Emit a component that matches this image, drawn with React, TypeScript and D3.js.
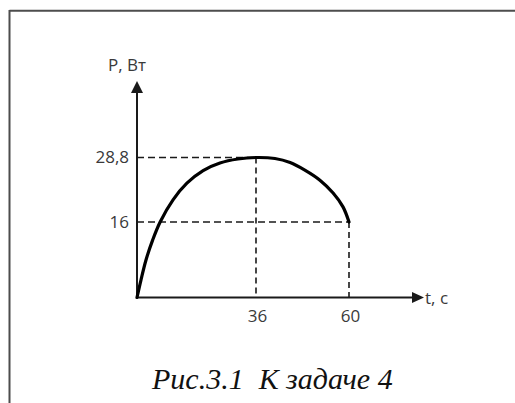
import React from "react";
import * as d3 from "d3";

// Power vs time curve, P(t) in watts
const timeValues = [0, 1.2, 2.7, 4.7, 7.0, 10.9, 15.1, 20.0, 25.1, 30.5, 36, 40.9, 44.8, 48.6, 52.5, 55.9, 58.45, 60];
const powerValues = [0, 3.7, 7.9, 12.1, 16, 20.4, 23.7, 26.2, 27.7, 28.5, 28.8, 28.6, 27.8, 26.3, 24.3, 21.75, 19.0, 16];

// Marked points (t, P)
const markTimes = [36, 60];
const markPowers = [28.8, 16];
const timeTickLabels = ["36", "60"];
const powerTickLabels = ["28,8", "16"];

const yAxisTitle = "P, Вт";
const xAxisTitle = "t, c";
const caption = "Рис.3.1  К задаче 4";

const W = 515;
const H = 403;

export default function App() {
  // schematic axes: piecewise-linear scales through the marked values
  const x = d3.scaleLinear().domain([0, 36, 60]).range([137, 256, 349]);
  const y = d3.scaleLinear().domain([0, 16, 28.8]).range([297.5, 222, 157.5]);

  const pts: [number, number][] = timeValues.map((t, i) => [t, powerValues[i]]);
  const line = d3
    .line<[number, number]>()
    .x((d) => x(d[0]))
    .y((d) => y(d[1]))
    .curve(d3.curveCatmullRom.alpha(0.5));

  const x0 = x(0);
  const y0 = y(0);
  const xEnd = 424;
  const yTop = 81;
  const axisColor = "#1a1a1a";
  const textColor = "#3a3a3a";
  const sans = "'Open Sans', 'Noto Sans', sans-serif";

  return (
    <svg
      width={W}
      height={H}
      viewBox={`0 0 ${W} ${H}`}
      style={{ position: "absolute", left: 0, top: 0, background: "#fff" }}
    >
      <rect x={0} y={0} width={W} height={H} fill="#fff" />
      {/* frame */}
      <line x1={9.5} y1={10.8} x2={W} y2={10.8} stroke="#4d4d4d" strokeWidth={2} />
      <line x1={9.5} y1={10} x2={9.5} y2={H} stroke="#4d4d4d" strokeWidth={2} />

      {/* dashed guides */}
      {markTimes.map((t, i) => (
        <g key={"g" + i} stroke="#1a1a1a" strokeWidth={1.6} fill="none">
          <line x1={x0} y1={y(markPowers[i])} x2={x(t)} y2={y(markPowers[i])} strokeDasharray="7,4" />
          <line x1={x(t)} y1={y(markPowers[i])} x2={x(t)} y2={y0} strokeDasharray="6,4" />
        </g>
      ))}

      {/* axes */}
      <line x1={x0} y1={y0} x2={xEnd - 10} y2={y0} stroke={axisColor} strokeWidth={2} />
      <line x1={x0} y1={y0} x2={x0} y2={yTop + 10} stroke={axisColor} strokeWidth={2} />
      <path d={`M${xEnd},${y0} L${xEnd - 12},${y0 - 5.5} L${xEnd - 12},${y0 + 5.5} Z`} fill={axisColor} />
      <path d={`M${x0},${yTop} L${x0 - 6},${yTop + 12} L${x0 + 6},${yTop + 12} Z`} fill={axisColor} />

      {/* curve */}
      <path d={line(pts) || ""} fill="none" stroke="#000" strokeWidth={3.2} strokeLinecap="round" />

      {/* tick labels */}
      {markPowers.map((p, i) => (
        <text
          key={"py" + i}
          x={x0 - 8}
          y={y(p) + 5.5}
          textAnchor="end"
          fontFamily={sans}
          fontSize={17}
          fill={textColor}
        >
          {powerTickLabels[i]}
        </text>
      ))}
      {markTimes.map((t, i) => (
        <text
          key={"tx" + i}
          x={x(t) + 1.5}
          y={y0 + 24}
          textAnchor="middle"
          fontFamily={sans}
          fontSize={17}
          fill={textColor}
        >
          {timeTickLabels[i]}
        </text>
      ))}

      {/* axis titles */}
      <text x={108} y={71} fontFamily={sans} fontSize={17} fill={textColor}>
        {yAxisTitle}
      </text>
      <text x={425} y={304} fontFamily={sans} fontSize={17} fill={textColor}>
        {xAxisTitle}
      </text>

      {/* caption */}
      <text
        x={152}
        y={389}
        fontFamily="'Liberation Serif', 'Times New Roman', serif"
        fontStyle="italic"
        fontSize={30}
        fill="#111"
        style={{ whiteSpace: "pre" }}
      >
        {caption}
      </text>
    </svg>
  );
}
